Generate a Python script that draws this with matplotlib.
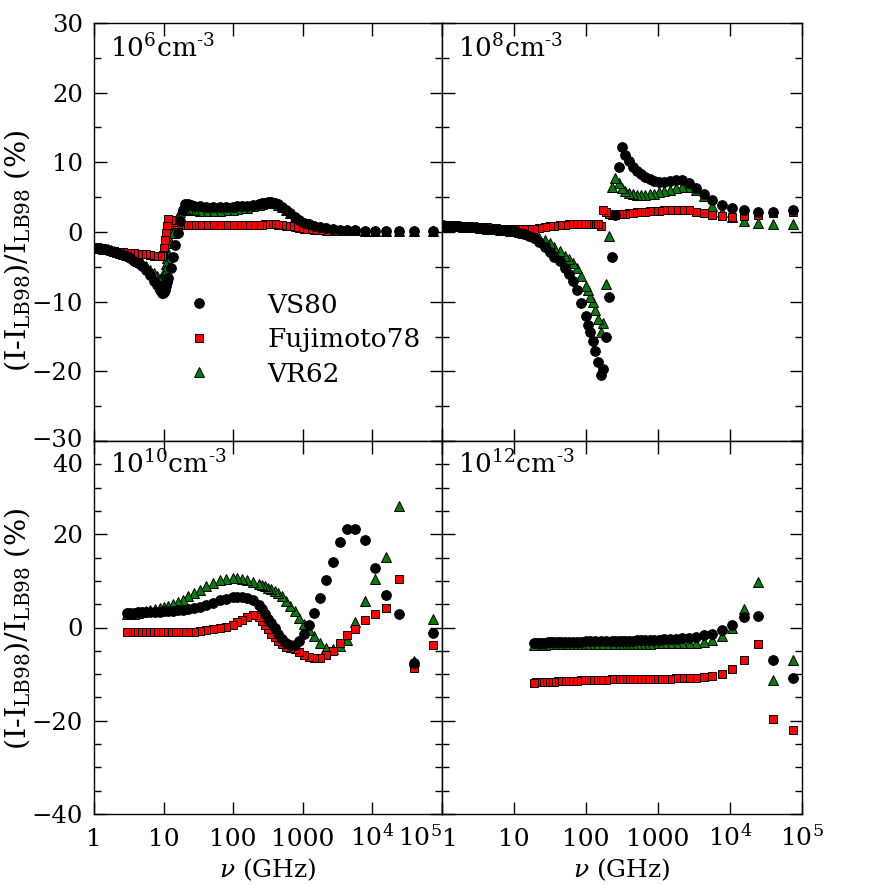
import matplotlib
matplotlib.use("Agg")
import matplotlib.pyplot as plt
from matplotlib.ticker import FixedLocator, FixedFormatter, LogLocator, MultipleLocator, NullFormatter
from matplotlib.transforms import ScaledTranslation
import numpy as np

plt.rcParams['font.family'] = ['DejaVu Serif']
plt.rcParams['mathtext.fontset'] = 'dejavuserif'
plt.rcParams['font.size'] = 18

# Hn-alpha recombination lines: frequency from principal quantum number n
RH_GHZ = 3.28805e6

# ---- 10^6 cm^-3 ----
n_tl = [4, 5, 6, 7, 8, 9, 10, 11, 12, 13, 14, 15, 16, 17, 18, 19, 20, 21, 22, 23, 24, 25, 26, 27, 28, 29, 30,
        32, 34, 36, 38, 40, 43, 46, 50, 54, 58, 62, 64, 66, 68, 70, 72, 74, 76, 78, 80, 82,
        83, 84, 85, 86, 87, 88, 90, 93, 96, 100,
        105, 110, 115, 120, 125, 130, 135, 140, 145, 150, 155, 160, 165, 170, 175, 180, 185, 190]
vs80_tl = [0.1, 0.1, 0.1, 0.1, 0.15, 0.2, 0.25, 0.3, 0.35, 0.45, 0.6, 0.75, 0.9, 1.1, 1.3, 1.7, 2.2, 2.7, 3.1, 3.6,
           4.0, 4.2, 4.3, 4.3, 4.2, 4.1, 4.0,
           3.9, 3.8, 3.75, 3.7, 3.6, 3.6, 3.6, 3.6, 3.6, 3.7, 3.8, 3.9, 4.0, 4.0, 3.2, 1.6, -0.2, -1.9, -3.6, -5.2, -6.6,
           -7.2, -7.8, -8.3, -8.6, -8.8, -8.7, -8.3, -7.6, -7.0, -6.2,
           -5.5, -4.9, -4.5, -4.2, -3.8, -3.5, -3.3, -3.1, -2.95, -2.8, -2.7, -2.6, -2.5, -2.4, -2.35, -2.3, -2.25, -2.2]
fuji_tl = [0.0, 0.0, 0.0, 0.05, 0.05, 0.05, 0.1, 0.1, 0.1, 0.15, 0.2, 0.25, 0.3, 0.4, 0.5, 0.6, 0.7, 0.8, 0.9, 1.0,
           1.05, 1.1, 1.1, 1.1, 1.1, 1.05, 1.05,
           1.0, 1.0, 1.0, 1.0, 1.0, 1.0, 1.0, 1.0, 1.0, 1.0, 1.0, 1.0, 1.0, 1.0, 1.0, 1.0, 1.1, 1.2, 1.4, 1.7, 1.9,
           0.8, -0.2, -1.2, -2.3, -3.3, -3.5, -3.5, -3.45, -3.4, -3.3,
           -3.2, -3.15, -3.1, -3.05, -3.0, -2.95, -2.9, -2.85, -2.8, -2.75, -2.7, -2.65, -2.6, -2.55, -2.5, -2.45, -2.4, -2.35]
vr62_tl = [0.1, 0.1, 0.1, 0.1, 0.15, 0.2, 0.25, 0.3, 0.35, 0.45, 0.6, 0.75, 0.9, 1.1, 1.3, 1.7, 2.2, 2.7, 3.1, 3.6,
           3.9, 4.1, 4.2, 4.2, 4.1, 4.0, 3.9,
           3.7, 3.5, 3.4, 3.3, 3.2, 3.1, 3.0, 3.0, 3.0, 3.05, 3.1, 3.2, 3.3, 3.3, 3.2, 2.8, 2.0, 1.0, -0.2, -1.6, -3.0,
           -3.8, -4.6, -5.4, -6.2, -6.8, -7.0, -6.7, -6.3, -5.9, -5.4,
           -4.9, -4.5, -4.1, -3.8, -3.5, -3.3, -3.1, -2.95, -2.8, -2.7, -2.6, -2.5, -2.45, -2.4, -2.35, -2.3, -2.25, -2.2]

# ---- 10^8 cm^-3 ----
n_tr = [4, 5, 6, 7, 8, 9, 10, 11, 12, 13, 14, 15, 16, 17, 18, 19, 20, 21, 22, 23, 24, 25, 26, 27, 28, 29, 30,
        31, 32, 33, 34, 35, 36, 37, 38, 39, 40,
        42, 44, 46, 48, 50, 53, 56, 59, 62, 66, 70, 74, 78, 82, 86, 90,
        95, 100, 105, 110, 115, 120, 125, 130, 135, 140, 145, 150, 155, 160, 165, 170, 175, 180, 185, 190]
vs80_tr = [3.1, 2.9, 2.9, 3.1, 3.4, 3.9, 4.6, 5.5, 6.3, 7.0, 7.4, 7.4, 7.3, 7.2, 7.2, 7.3, 7.6, 7.9, 8.3, 8.8,
           9.4, 10.2, 11.1, 12.2, 9.4, 2.5, -3.6,
           -9.4, -15.0, -19.7, -20.5, -18.7, -17.1, -15.7, -14.4, -13.3, -12.1,
           -10.2, -8.3, -7.0, -6.0, -5.1, -4.1, -3.6, -2.9, -2.2, -1.5, -0.9, -0.6, -0.3, -0.1, 0.1, 0.25,
           0.3, 0.35, 0.4, 0.45, 0.5, 0.55, 0.6, 0.65, 0.7, 0.72, 0.75, 0.78, 0.8, 0.82, 0.85, 0.88, 0.9, 0.93, 0.96, 1.0]
fuji_tr = [2.9, 2.7, 2.5, 2.3, 2.2, 2.3, 2.4, 2.7, 2.9, 3.1, 3.2, 3.2, 3.15, 3.1, 3.05, 3.0, 2.95, 2.9, 2.85, 2.8,
           2.75, 2.7, 2.65, 2.6, 2.55, 2.5, 2.5,
           2.6, 2.8, 3.2, 0.9, 1.1, 1.15, 1.2, 1.2, 1.2, 1.2,
           1.2, 1.2, 1.15, 1.1, 1.05, 1.0, 0.9, 0.8, 0.7, 0.6, 0.5, 0.45, 0.4, 0.4, 0.4, 0.4,
           0.45, 0.5, 0.55, 0.6, 0.65, 0.7, 0.72, 0.75, 0.78, 0.8, 0.82, 0.85, 0.87, 0.9, 0.92, 0.95, 0.97, 1.0, 1.0, 1.0]
vr62_tr = [1.1, 1.1, 1.3, 1.6, 2.1, 2.8, 3.8, 5.1, 6.0, 6.5, 6.5, 6.3, 6.1, 5.9, 5.7, 5.5, 5.4, 5.3, 5.3, 5.35,
           5.45, 5.6, 5.9, 6.3, 7.0, 7.8, 6.4,
           -0.6, -7.5, -13.1, -14.3, -12.5, -11.2, -10.1, -9.3, -8.3, -7.7,
           -6.3, -5.2, -4.5, -3.9, -3.4, -2.7, -2.1, -1.6, -1.2, -0.8, -0.5, -0.3, -0.1, 0.0, 0.1, 0.2,
           0.3, 0.35, 0.4, 0.45, 0.5, 0.55, 0.6, 0.65, 0.7, 0.72, 0.75, 0.78, 0.8, 0.82, 0.85, 0.88, 0.9, 0.93, 0.96, 1.0]

# ---- 10^10 cm^-3 ----
n_bl = [4, 5, 6, 7, 8, 9, 10, 11, 12, 13, 14, 15, 16, 17, 18, 19, 20, 21, 22, 23, 24, 25, 26, 27, 28, 29, 30,
        32, 34, 36, 38, 40, 43, 46, 50, 54, 58, 62, 66, 70, 74, 78, 82, 86, 90,
        95, 100, 105, 110, 115, 120, 125, 130]
vs80_bl = [-1.1, -7.7, 2.8, 6.9, 12.8, 18.7, 21.2, 21.1, 18.4, 14.1, 10.1, 6.3, 3.2, 0.6, -1.4, -2.9, -3.7, -3.8, -3.4,
           -2.4, -1.4, -0.1, 0.9, 1.9, 3.0, 4.0, 4.8,
           5.8, 6.4, 6.6, 6.6, 6.5, 6.2, 5.8, 5.3, 4.9, 4.5, 4.2, 4.0, 3.8, 3.7, 3.6, 3.5, 3.45, 3.4,
           3.35, 3.3, 3.3, 3.25, 3.25, 3.2, 3.2, 3.2]
fuji_bl = [-3.7, -8.6, 10.3, 4.2, 2.9, 1.7, -0.3, -1.7, -3.4, -5.1, -6.0, -6.6, -6.6, -6.3, -6.0, -5.3, -4.7, -4.4, -4.1,
           -3.6, -2.9, -2.0, -1.3, -0.4, 0.6, 1.5, 2.3,
           2.6, 2.2, 1.6, 1.1, 0.6, 0.2, -0.1, -0.4, -0.6, -0.8, -0.9, -1.0, -1.0, -1.0, -1.0, -1.0, -1.0, -1.0,
           -1.0, -1.0, -1.0, -1.0, -1.0, -1.0, -1.0, -1.0]
vr62_bl = [1.9, -7.2, 26.1, 15.1, 10.3, 5.7, 1.1, -2.6, -4.0, -4.6, -4.4, -3.3, -1.9, -0.6, 0.7, 2.1, 3.5, 4.7, 5.7,
           6.7, 7.4, 7.9, 8.2, 8.5, 8.8, 9.1, 9.3,
           9.7, 10.1, 10.5, 10.7, 10.7, 10.5, 10.2, 9.6, 8.8, 8.1, 7.4, 6.7, 6.0, 5.4, 5.0, 4.7, 4.4, 4.1,
           3.9, 3.7, 3.5, 3.4, 3.2, 3.0, 2.9, 2.8]

# ---- 10^12 cm^-3 ----
n_br = [4, 5, 6, 7, 8, 9, 10, 11, 12, 13, 14, 15, 16, 17, 18, 19, 20, 21, 22, 23, 24, 25, 26, 27, 28, 29, 30,
        32, 34, 36, 38, 40, 42, 44, 46, 48, 50, 52, 54, 56, 58, 60, 62, 64, 66, 68, 70]
vs80_br = [-10.8, -6.9, 2.4, 2.3, 0.5, -0.6, -1.3, -1.7, -2.0, -2.2, -2.3, -2.4, -2.5, -2.55, -2.6, -2.65, -2.7,
           -2.7, -2.75, -2.75, -2.8, -2.8, -2.8, -2.85, -2.85, -2.85, -2.9,
           -2.9, -2.95, -2.95, -3.0, -3.0, -3.05, -3.05, -3.1, -3.1, -3.1, -3.15, -3.15, -3.2, -3.2, -3.2, -3.25,
           -3.25, -3.3, -3.3, -3.3]
fuji_br = [-21.9, -19.6, -3.5, -6.9, -9.0, -10.0, -10.3, -10.6, -10.8, -10.85, -10.9, -10.9, -10.95, -10.95, -11.0,
           -11.0, -11.0, -11.05, -11.05, -11.05, -11.1, -11.1, -11.1, -11.1, -11.15, -11.15, -11.15,
           -11.2, -11.2, -11.25, -11.3, -11.3, -11.35, -11.4, -11.4, -11.45, -11.5, -11.5, -11.55, -11.6, -11.6,
           -11.65, -11.7, -11.7, -11.75, -11.75, -11.8]
vr62_br = [-6.9, -11.3, 9.7, 4.0, -0.1, -1.9, -2.7, -3.1, -3.3, -3.35, -3.4, -3.4, -3.4, -3.4, -3.4, -3.4, -3.45,
           -3.45, -3.45, -3.45, -3.45, -3.5, -3.5, -3.5, -3.5, -3.5, -3.5,
           -3.5, -3.5, -3.5, -3.55, -3.55, -3.55, -3.55, -3.55, -3.6, -3.6, -3.6, -3.6, -3.6, -3.6, -3.6, -3.65,
           -3.65, -3.65, -3.65, -3.65]

panel_labels = [r'10$^{6}$cm$^{\text{-3}}$', r'10$^{8}$cm$^{\text{-3}}$',
                r'10$^{10}$cm$^{\text{-3}}$', r'10$^{12}$cm$^{\text{-3}}$']
series_names = ['VS80', 'Fujimoto78', 'VR62']
xtick_vals = [1, 10, 100, 1000, 1e4, 1e5]
xtick_text = ['1', '10', '100', '1000', r'10$^{4}$', r'10$^{5}$']
ytick_top = [-30, -20, -10, 0, 10, 20, 30]
ytick_bot = [-40, -20, 0, 20, 40]


def line_freq(n):
    n = np.asarray(n, dtype=float)
    return RH_GHZ * (1.0 / n**2 - 1.0 / (n + 1)**2)


fig = plt.figure(figsize=(8.86, 8.86), dpi=100)
W, H = 886.0, 886.0
ax_tl = fig.add_axes([94 / W, 1 - 441 / H, 348 / W, 418 / H])
ax_tr = fig.add_axes([442 / W, 1 - 441 / H, 360 / W, 418 / H])
ax_bl = fig.add_axes([94 / W, 1 - 814 / H, 348 / W, 373 / H])
ax_br = fig.add_axes([442 / W, 1 - 814 / H, 360 / W, 373 / H])

panels = [
    (ax_tl, n_tl, vs80_tl, fuji_tl, vr62_tl),
    (ax_tr, n_tr, vs80_tr, fuji_tr, vr62_tr),
    (ax_bl, n_bl, vs80_bl, fuji_bl, vr62_bl),
    (ax_br, n_br, vs80_br, fuji_br, vr62_br),
]

for i, (ax, n, y_vs, y_fu, y_vr) in enumerate(panels):
    nu = line_freq(n)
    h_vr, = ax.plot(nu, y_vr, ls='none', marker='^', ms=7.2, mfc='#0a7a0a', mec='black', mew=0.7, zorder=2)
    h_fu, = ax.plot(nu, y_fu, ls='none', marker='s', ms=6.3, mfc='#ff0000', mec='black', mew=0.7, zorder=3)
    h_vs, = ax.plot(nu, y_vs, ls='none', marker='o', ms=7.0, mfc='black', mec='black', mew=0.7, zorder=4)

    ax.set_xscale('log')
    ax.set_xlim(1, 1e5)
    ax.xaxis.set_major_locator(FixedLocator(xtick_vals))
    ax.xaxis.set_minor_locator(LogLocator(base=10, subs=np.arange(2, 10)))
    ax.xaxis.set_minor_formatter(NullFormatter())

    if i < 2:
        ax.set_ylim(-30, 30)
        ax.yaxis.set_major_locator(FixedLocator(ytick_top))
    else:
        ax.set_ylim(-40, 40)
        ax.yaxis.set_major_locator(FixedLocator(ytick_bot))
    ax.yaxis.set_minor_locator(MultipleLocator(5))

    ax.tick_params(which='both', direction='in', top=True, right=True, width=1)
    ax.tick_params(which='major', length=9)
    ax.tick_params(which='minor', length=5)
    ax.tick_params(axis='y', pad=8, labelsize=17.5)
    for sp in ax.spines.values():
        sp.set_linewidth(1.0)

    if i >= 2:
        ax.xaxis.set_major_formatter(FixedFormatter(xtick_text))
        ax.tick_params(axis='x', pad=23)
        ax.set_xlabel(r'$\nu$ (GHz)', labelpad=4)
        xt = ax.xaxis.get_major_ticks(len(xtick_vals))
        for tk in xt:
            tk.label1.set_verticalalignment('baseline')
        if i == 2:
            xt[-1].label1.set_horizontalalignment('right')
        else:
            xt[0].label1.set_horizontalalignment('left')
    else:
        ax.set_xticklabels([])

    if i % 2 == 1:
        ax.set_yticklabels([])
    elif i == 0:
        # nudge the bottom "-30" up a little, away from the "40" below it
        yt = ax.yaxis.get_major_ticks(len(ytick_top))
        lab = yt[0].label1
        lab.set_transform(lab.get_transform() + ScaledTranslation(0, 2 / 72, fig.dpi_scale_trans))
    else:
        # keep the "40" clear of the "-30" of the panel above
        yt = ax.yaxis.get_major_ticks(len(ytick_bot))
        lab = yt[-1].label1
        lab.set_verticalalignment('top')
        lab.set_transform(lab.get_transform() + ScaledTranslation(0, -9 / 72, fig.dpi_scale_trans))

    ax.text(0.045, 0.975, panel_labels[i], transform=ax.transAxes, ha='left', va='top', fontsize=19)

    if i == 0:
        ax.legend([h_vs, h_fu, h_vr], series_names, loc='upper left',
                  bbox_to_anchor=(0.225, 0.355), frameon=False, borderpad=0, borderaxespad=0,
                  handlelength=2.0, handletextpad=1.6, labelspacing=0.36, fontsize=19)

ylab = r'(I-I$_{\rm LB98}$)/I$_{\rm LB98}$ (%)'
fig.text(0.019, 1 - 251 / H, ylab, rotation=90, ha='center', va='center', fontsize=20.5)
fig.text(0.019, 1 - 629 / H, ylab, rotation=90, ha='center', va='center', fontsize=20.5)

fig.savefig('out.png', dpi=100)
